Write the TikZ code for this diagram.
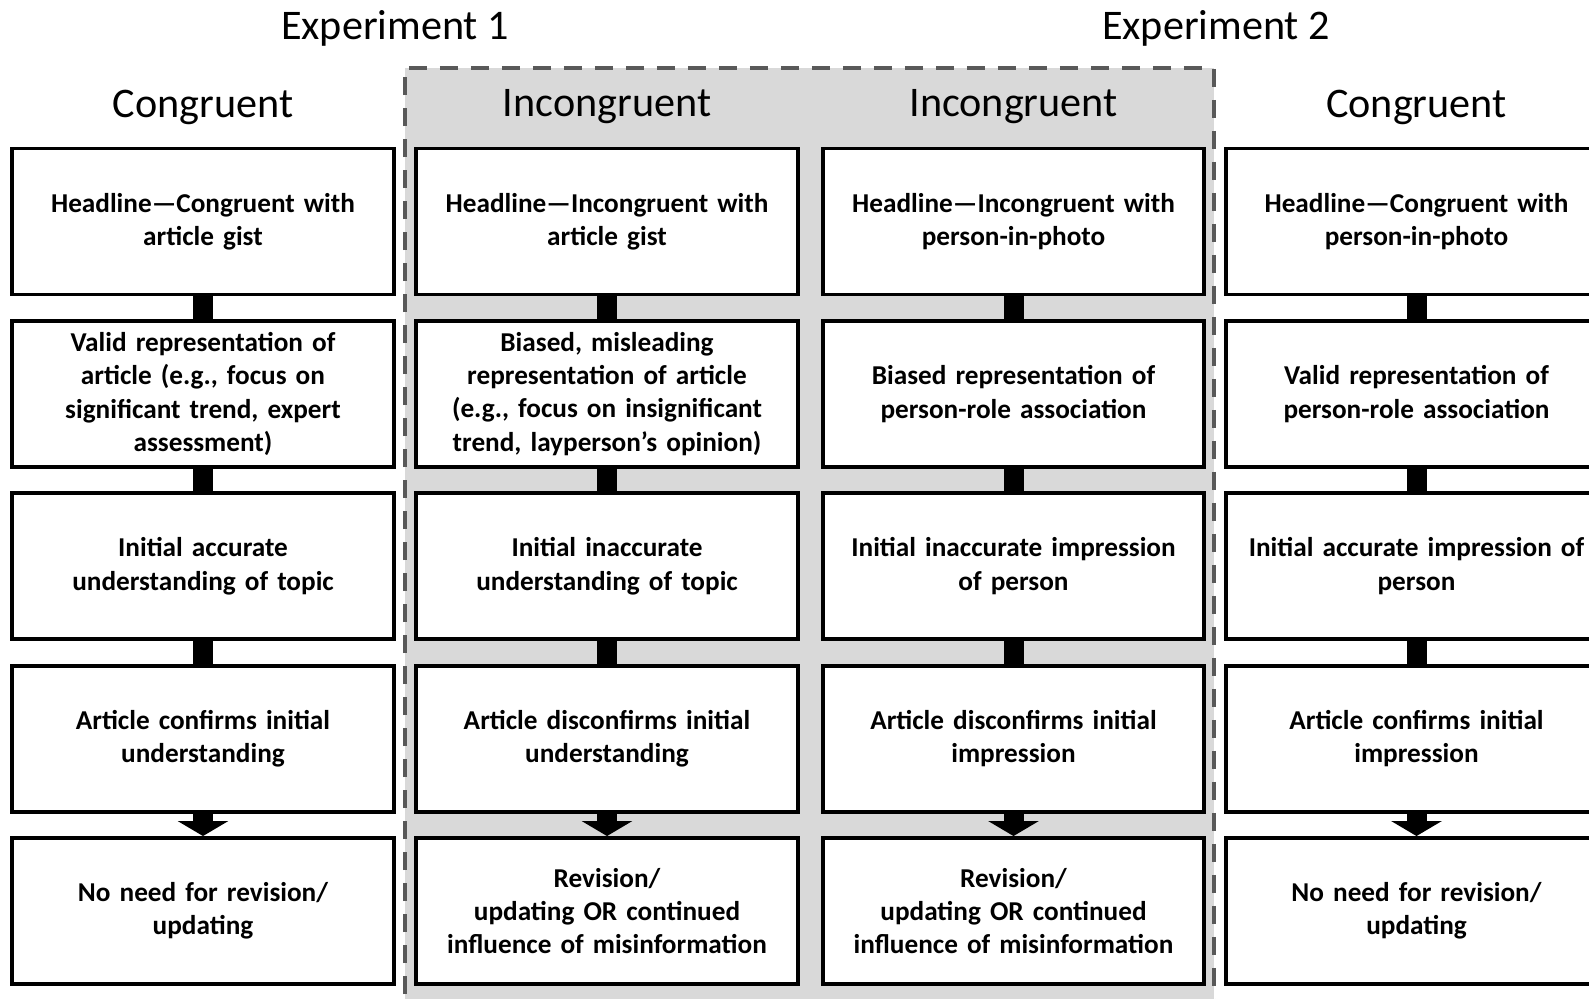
\documentclass[tikz,border=0pt]{standalone}
\usepackage{fontspec}
\setmainfont{Carlito}
\usetikzlibrary{arrows.meta}
\usetikzlibrary{positioning}

\tikzset{
  stage/.style={draw=black, line width=2.2pt, fill=white, minimum width=7.54cm,
    minimum height=2.92cm, text width=7.4cm, align=center,
    font=\fontsize{15.5}{19}\selectfont\bfseries},
  heading/.style={font=\fontsize{24}{28}\selectfont},
  link/.style={line width=0.4cm},
  leadto/.style={line width=0.4cm, -{Triangle[width=1cm,length=0.3cm]}}
}

\begin{document}
\begin{tikzpicture}[node distance=0.45cm]
            \useasboundingbox (0, 0) rectangle (31.78, -19.96);
            % shaded band for the incongruent conditions
            \fill[black!15] (8.1, -1.36) rectangle (24.28, -20.5);
            \draw[black!65, line width=2.3pt, line join=round, dash pattern=on 0.36cm off 0.26cm]
                (8.1, -20.5) -- (8.1, -1.36) -- (24.28, -1.36) -- (24.28, -20.5);

            \node[heading] (exp1) at (7.9, -0.56)   {Experiment 1};
            \node[heading] (exp2) at (24.32, -0.56) {Experiment 2};
            \node[heading] (h1) at (4.06, -2.14)  {Congruent};
            \node[heading] (h2) at (12.14, -2.14) {Incongruent};
            \node[heading] (h3) at (20.27, -2.14) {Incongruent};
            \node[heading] (h4) at (28.33, -2.14) {Congruent};

            % experiment 1, congruent
            \node[stage] (e1c1) at (4.06, -4.43) {Headline—Congruent with\\article gist};
            \node[stage, below=of e1c1] (e1c2) {Valid representation of\\article (e.g., focus on\\significant trend, expert\\assessment)};
            \node[stage, below=of e1c2] (e1c3) {Initial accurate\\understanding of topic};
            \node[stage, below=of e1c3] (e1c4) {Article confirms initial\\understanding};
            \node[stage, below=of e1c4] (e1c5) {No need for revision/\\updating};

            % experiment 1, incongruent
            \node[stage] (e1i1) at (12.14, -4.43) {Headline—Incongruent with\\article gist};
            \node[stage, below=of e1i1] (e1i2) {Biased, misleading\\representation of article\\(e.g., focus on insignificant\\trend, layperson’s opinion)};
            \node[stage, below=of e1i2] (e1i3) {Initial inaccurate\\understanding of topic};
            \node[stage, below=of e1i3] (e1i4) {Article disconfirms initial\\understanding};
            \node[stage, below=of e1i4] (e1i5) {Revision/\\updating OR continued\\influence of misinformation};

            % experiment 2, incongruent
            \node[stage] (e2i1) at (20.27, -4.43) {Headline—Incongruent with\\person-in-photo};
            \node[stage, below=of e2i1] (e2i2) {Biased representation of\\person-role association};
            \node[stage, below=of e2i2] (e2i3) {Initial inaccurate impression\\of person};
            \node[stage, below=of e2i3] (e2i4) {Article disconfirms initial\\impression};
            \node[stage, below=of e2i4] (e2i5) {Revision/\\updating OR continued\\influence of misinformation};

            % experiment 2, congruent
            \node[stage] (e2c1) at (28.33, -4.43) {Headline—Congruent with\\person-in-photo};
            \node[stage, below=of e2c1] (e2c2) {Valid representation of\\person-role association};
            \node[stage, below=of e2c2] (e2c3) {Initial accurate impression of\\person};
            \node[stage, below=of e2c3] (e2c4) {Article confirms initial\\impression};
            \node[stage, below=of e2c4] (e2c5) {No need for revision/\\updating};

            \foreach \col in {e1c, e1i, e2i, e2c} {
                \foreach \r/\s in {1/2, 2/3, 3/4}
                    \draw[link] (\col\r.south) -- (\col\s.north);
                \draw[leadto] (\col4.south) -- (\col5.north);
            }
        \end{tikzpicture}
\end{document}
